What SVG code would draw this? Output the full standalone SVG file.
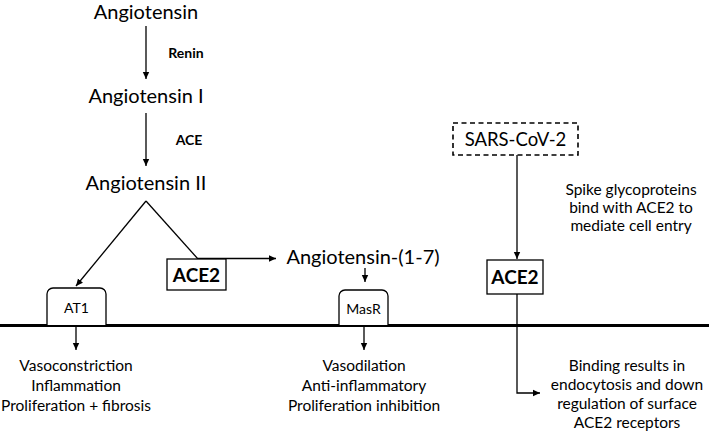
<svg xmlns="http://www.w3.org/2000/svg" width="709" height="432" viewBox="0 0 709 432">
<style>
text{font-family:Lato,"Open Sans","Liberation Sans",sans-serif;fill:#000;text-anchor:middle}
.big{font-size:20px}
.lbl{font-size:14px;font-weight:bold}
.mid{font-size:15.5px}
.box{fill:#fff;stroke:#000;stroke-width:1.3}
.ln{fill:none;stroke:#000;stroke-width:1.3}
</style>
<defs>
<marker id="ah" markerWidth="8" markerHeight="8" refX="7" refY="4" orient="auto" markerUnits="userSpaceOnUse">
<path d="M0,0.8 L7,4 L0,7.2 Z" fill="#000"/>
</marker>
</defs>
<rect width="709" height="432" fill="#fff"/>
<g id="connectors">
<line class="ln" x1="146" y1="26" x2="146" y2="79" marker-end="url(#ah)"/>
<line class="ln" x1="146" y1="113" x2="146" y2="166" marker-end="url(#ah)"/>
<line class="ln" x1="146" y1="201" x2="76" y2="286" marker-end="url(#ah)"/>
<line class="ln" x1="146" y1="201" x2="198" y2="259"/>
<line class="ln" x1="198" y1="258.5" x2="276" y2="258.5" marker-end="url(#ah)"/>
<line class="ln" x1="365" y1="268" x2="365" y2="282" marker-end="url(#ah)"/>
<line class="ln" x1="517" y1="155" x2="517" y2="259" marker-end="url(#ah)"/>
<polyline class="ln" points="517,294 517,393 540,393" marker-end="url(#ah)"/>
<line class="ln" x1="76" y1="327" x2="76" y2="350" marker-end="url(#ah)"/>
<line class="ln" x1="364" y1="327" x2="364" y2="350" marker-end="url(#ah)"/>
</g>
<g id="angiotensin"><text class="big" x="146" y="19">Angiotensin</text></g>
<g id="renin"><text class="lbl" x="186" y="58">Renin</text></g>
<g id="angiotensin-i"><text class="big" x="146" y="103">Angiotensin I</text></g>
<g id="ace"><text class="lbl" x="189" y="145">ACE</text></g>
<g id="angiotensin-ii"><text class="big" x="146" y="190">Angiotensin II</text></g>
<g id="ace2-left"><rect class="box" x="167" y="259" width="59" height="31"/><text x="196.5" y="282" style="font-size:19px;font-weight:bold">ACE2</text></g>
<g id="angiotensin-1-7"><text class="big" x="363" y="264">Angiotensin-(1-7)</text></g>
<g id="membrane"><line x1="0" y1="325.5" x2="709" y2="325.5" stroke="#000" stroke-width="3"/></g>
<g id="at1"><path class="box" d="M47,325 V294 a6,6 0 0 1 6,-6 H100 a6,6 0 0 1 6,6 V325"/><text x="76.5" y="313" style="font-size:14px">AT1</text></g>
<g id="masr"><path class="box" d="M339,325 V296 a6,6 0 0 1 6,-6 H382 a6,6 0 0 1 6,6 V325"/><text x="363.5" y="314" style="font-size:14px">MasR</text></g>
<g id="sars"><rect x="453" y="123" width="125" height="32" fill="#fff" stroke="#000" stroke-width="1.6" stroke-dasharray="5,3.5"/><text x="515.5" y="146" style="font-size:18.5px">SARS-CoV-2</text></g>
<g id="ace2-right"><rect class="box" x="487" y="260" width="56" height="34"/><text x="515" y="284" style="font-size:19px;font-weight:bold">ACE2</text></g>
<g id="spike-text"><text class="mid" x="631" y="195">Spike glycoproteins</text><text class="mid" x="631" y="213">bind with ACE2 to</text><text class="mid" x="631" y="231">mediate cell entry</text></g>
<g id="at1-effects"><text class="mid" x="76" y="371">Vasoconstriction</text><text class="mid" x="76" y="391">Inflammation</text><text class="mid" x="76" y="411">Proliferation + fibrosis</text></g>
<g id="masr-effects"><text class="mid" x="364" y="371">Vasodilation</text><text class="mid" x="364" y="391">Anti-inflammatory</text><text class="mid" x="364" y="411">Proliferation inhibition</text></g>
<g id="binding-text"><text class="mid" x="627" y="371">Binding results in</text><text class="mid" x="627" y="390">endocytosis and down</text><text class="mid" x="627" y="409">regulation of surface</text><text class="mid" x="627" y="428">ACE2 receptors</text></g>
</svg>
